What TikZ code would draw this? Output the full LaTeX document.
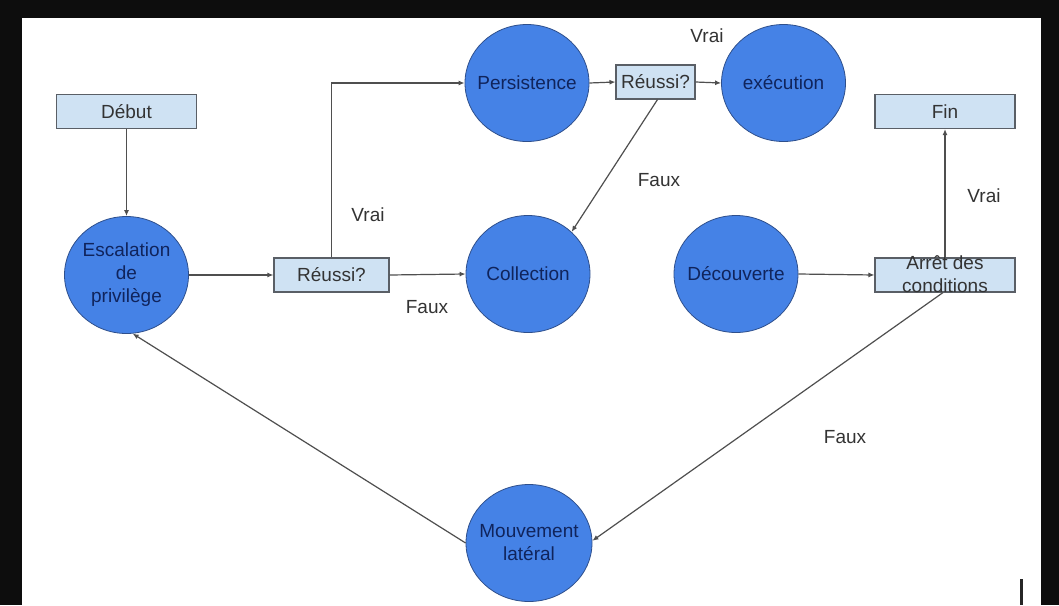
\documentclass[tikz,border=0pt]{standalone}
\usepackage{fontspec}
\setmainfont{Liberation Sans}
\usetikzlibrary{shapes.geometric,arrows.meta}

\definecolor{blobblue}{HTML}{4582E6}
\definecolor{blobedge}{HTML}{2E4F8C}
\definecolor{blobtext}{HTML}{10245C}
\definecolor{boxfill}{HTML}{CFE2F3}
\definecolor{boxedge}{HTML}{5A5F66}
\definecolor{linkgray}{HTML}{4F4F4F}
\definecolor{labelgray}{HTML}{333333}

\tikzset{
  txt/.style={font=\fontsize{19}{23}\selectfont},
  blobtxt/.style={txt, text=blobtext, align=center, inner sep=0pt},
  blob/.style={ellipse, fill=blobblue, draw=blobedge, line width=0.8pt,
    minimum width=124pt, minimum height=117pt, inner sep=0pt},
  stepbox/.style={rectangle, txt, fill=boxfill, draw=boxedge, line width=1.1pt,
    minimum height=34pt, inner sep=0pt, text=labelgray, align=center},
  link/.style={draw=linkgray, line width=1.2pt,
    -{Latex[length=6pt,width=5pt]}},
  lbl/.style={txt, text=labelgray, inner sep=0pt}
}

\begin{document}
\begin{tikzpicture}[x=1pt,y=-1pt]
  % frame
  \useasboundingbox (0,0) rectangle (1059,605);
  \fill[black!95] (0,0) rectangle (1059,605);
  \fill[white] (22,18) rectangle (1041,605);

  % boxes
  \node[stepbox, minimum width=140pt] (debut) at (126.5,111.5) {Début};
  \node[stepbox, minimum width=140pt] (fin) at (945,111.5) {Fin};
  \node[stepbox, minimum width=115pt] (reussiA) at (331.5,275) {Réussi?};
  \node[stepbox, minimum width=79pt] (reussiB) at (655.5,82) {Réussi?};
  \node[stepbox, minimum width=140pt] (arret) at (945,275) {};
  \node[txt, text=labelgray, align=center, inner sep=0pt] (arrettxt) at (945,274)
    {Arrêt des\\conditions};

  % process ellipses (fixed size, text set on top)
  \node[blob] (esc) at (126.5,275) {};
  \node[blobtxt] (esctxt) at (esc.center) {Escalation\\de\\privilège};
  \node[blob] (persist) at (527,83) {};
  \node[blobtxt] (persisttxt) at (persist.center) {Persistence};
  \node[blob] (exec) at (783.5,83) {};
  \node[blobtxt] (exectxt) at (exec.center) {exécution};
  \node[blob] (coll) at (528,274) {};
  \node[blobtxt] (colltxt) at (coll.center) {Collection};
  \node[blob] (decouv) at (736,274) {};
  \node[blobtxt] (decouvtxt) at (decouv.center) {Découverte};
  \node[blob, minimum width=126pt] (mouv) at (529,543) {};
  \node[blobtxt] (mouvtxt) at (mouv.center) {Mouvement\\latéral};

  % connectors
  \draw[link] (debut.south) -- (esc.north);
  \draw[link] (esc.east) -- (reussiA.west);
  \draw[link] (reussiA.east) -- (coll.west);
  \draw[link] (reussiA.north) |- (persist.west);
  \draw[link] (persist.east) -- (reussiB.west);
  \draw[link] (reussiB.east) -- (exec.west);
  \draw[link] ([xshift=2pt]reussiB.south) -- (coll.44);
  \draw[link] (decouv.east) -- (arret.west);
  \draw[link] (arret.north) -- (fin.south);
  \draw[link] ([xshift=-2pt]arret.south) -- (mouv.2);
  \draw[link] (mouv.west) -- (esc.-84);

  % branch labels
  \node[lbl] (vraiA) at (368,215) {Vrai};
  \node[lbl] (fauxA) at (427,307) {Faux};
  \node[lbl] (vraiB) at (707,36) {Vrai};
  \node[lbl] (fauxB) at (659,180) {Faux};
  \node[lbl] (vraiC) at (984,196) {Vrai};
  \node[lbl] (fauxC) at (845,437) {Faux};

  % pointer mark at the lower right
  \draw[black!85, line width=3pt] (1021,579) -- (1021,605);
\end{tikzpicture}
\end{document}
